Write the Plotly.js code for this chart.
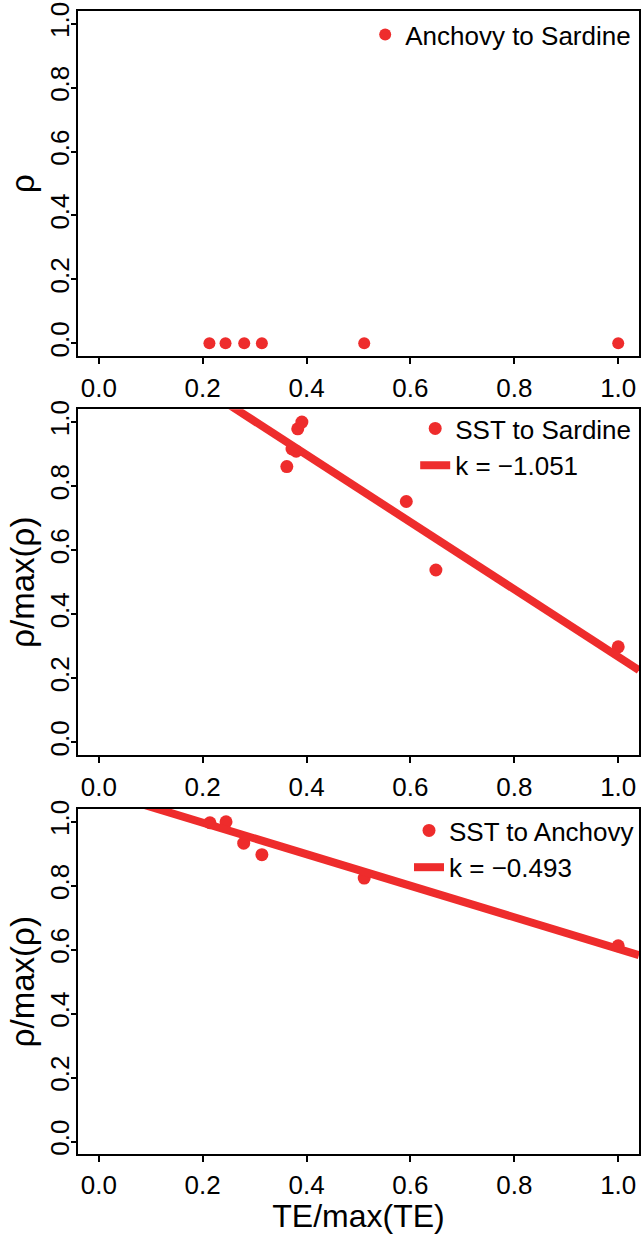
<!DOCTYPE html>
<html>
<head>
<meta charset="utf-8">
<script src="https://cdn.plot.ly/plotly-3.0.1.min.js"></script>
<style>html,body{margin:0;padding:0;background:#fff;}#chart{width:641px;height:1234px;}</style>
</head>
<body>
<div id="chart"></div>
<script>
// ---- data ----
const xTicks = [0, 0.2, 0.4, 0.6, 0.8, 1.0];
const xTickLabels = ["0.0", "0.2", "0.4", "0.6", "0.8", "1.0"];
const yTicks = [0, 0.2, 0.4, 0.6, 0.8, 1.0];
const yTickLabels = ["0.0", "0.2", "0.4", "0.6", "0.8", "1.0"];

// Panel 1: Anchovy to Sardine
const teAnchovySardine = [0.213, 0.244, 0.280, 0.314, 0.511, 1.000];
const rhoAnchovySardine = [0, 0, 0, 0, 0, 0];

// Panel 2: SST to Sardine
const teSstSardine = [0.362, 0.372, 0.380, 0.383, 0.391, 0.592, 0.649, 1.000];
const rhoSstSardine = [0.861, 0.916, 0.909, 0.979, 1.000, 0.752, 0.538, 0.298];
const fitSardineX = [0, 1.04];
const fitSardineY = [1.318, 0.225];
const kSardine = "k = \u22121.051";

// Panel 3: SST to Anchovy
const teSstAnchovy = [0.214, 0.245, 0.279, 0.314, 0.511, 1.000];
const rhoSstAnchovy = [0.997, 1.000, 0.933, 0.897, 0.824, 0.612];
const fitAnchovyX = [0, 1.04];
const fitAnchovyY = [1.096, 0.583];
const kAnchovy = "k = \u22120.493";

const RED = "#EE2C2C";
const FONT = "Liberation Sans, Arial, Helvetica, sans-serif";

const traces = [
  {x: teAnchovySardine, y: rhoAnchovySardine, xaxis: "x", yaxis: "y", type: "scatter", mode: "markers",
   name: "Anchovy to Sardine", marker: {color: RED, size: 12}, legend: "legend", cliponaxis: false},
  {x: teSstSardine, y: rhoSstSardine, xaxis: "x2", yaxis: "y2", type: "scatter", mode: "markers",
   name: "SST to Sardine", marker: {color: RED, size: 13}, legend: "legend2"},
  {x: fitSardineX, y: fitSardineY, xaxis: "x2", yaxis: "y2", type: "scatter", mode: "lines",
   name: kSardine, line: {color: RED, width: 8}, legend: "legend2"},
  {x: teSstAnchovy, y: rhoSstAnchovy, xaxis: "x3", yaxis: "y3", type: "scatter", mode: "markers",
   name: "SST to Anchovy", marker: {color: RED, size: 13}, legend: "legend3"},
  {x: fitAnchovyX, y: fitAnchovyY, xaxis: "x3", yaxis: "y3", type: "scatter", mode: "lines",
   name: kAnchovy, line: {color: RED, width: 8}, legend: "legend3"}
];

function xa(anchor, withTitle) {
  const a = {
    anchor: anchor, domain: [0, 1], range: [-0.04, 1.04], autorange: false,
    tickmode: "array", tickvals: xTicks, ticktext: xTickLabels,
    ticks: "outside", ticklen: 6, tickwidth: 2, tickcolor: "#000",
    showline: true, mirror: true, linewidth: 2, linecolor: "#000",
    showgrid: false, zeroline: false, ticklabelstandoff: withTitle ? 0 : 2,
    tickfont: {family: FONT, size: 26, color: "#000"}
  };
  if (withTitle) a.title = {text: "TE/max(TE)", font: {family: FONT, size: 32, color: "#000"}, standoff: 3};
  return a;
}
function ya(anchor, dom, title) {
  return {
    anchor: anchor, domain: dom, range: [-0.04, 1.04], autorange: false,
    tickmode: "array", tickvals: yTicks, ticktext: yTickLabels, tickangle: -90,
    ticks: "outside", ticklen: 5, tickwidth: 2, tickcolor: "#000",
    showline: true, mirror: true, linewidth: 2, linecolor: "#000",
    showgrid: false, zeroline: false, ticklabelstandoff: -8,
    tickfont: {family: FONT, size: 26, color: "#000"},
    title: {text: title, font: {family: FONT, size: 33, color: "#000"}, standoff: 0}
  };
}
const H = 1234;
function dom(top, bottom) { return [1 - bottom / H, 1 - top / H]; }

function leg(xRight, yTop) {
  return {x: xRight, xanchor: "right", y: yTop, yanchor: "top", bgcolor: "rgba(0,0,0,0)",
          borderwidth: 0, font: {family: FONT, size: 26, color: "#000"}, tracegroupgap: 0};
}

const layout = {
  width: 641, height: 1234,
  margin: {l: 78, r: 2, t: 0, b: 0},
  paper_bgcolor: "#fff", plot_bgcolor: "#fff",
  font: {family: FONT, color: "#000"},
  showlegend: true,
  xaxis: xa("y", false),
  yaxis: ya("x", dom(11, 356), "\u03c1"),
  xaxis2: xa("y2", false),
  yaxis2: ya("x2", dom(409.3, 755), "\u03c1/max(\u03c1)"),
  xaxis3: xa("y3", true),
  yaxis3: ya("x3", dom(809, 1154.3), "\u03c1/max(\u03c1)"),
  legend: leg(0.995, 1 - 11 / H),
  legend2: leg(0.995, 1 - 405 / H),
  legend3: leg(1.0, 1 - 807 / H)
};

Plotly.newPlot("chart", traces, layout, {staticPlot: true, displayModeBar: false});
</script>
</body>
</html>
